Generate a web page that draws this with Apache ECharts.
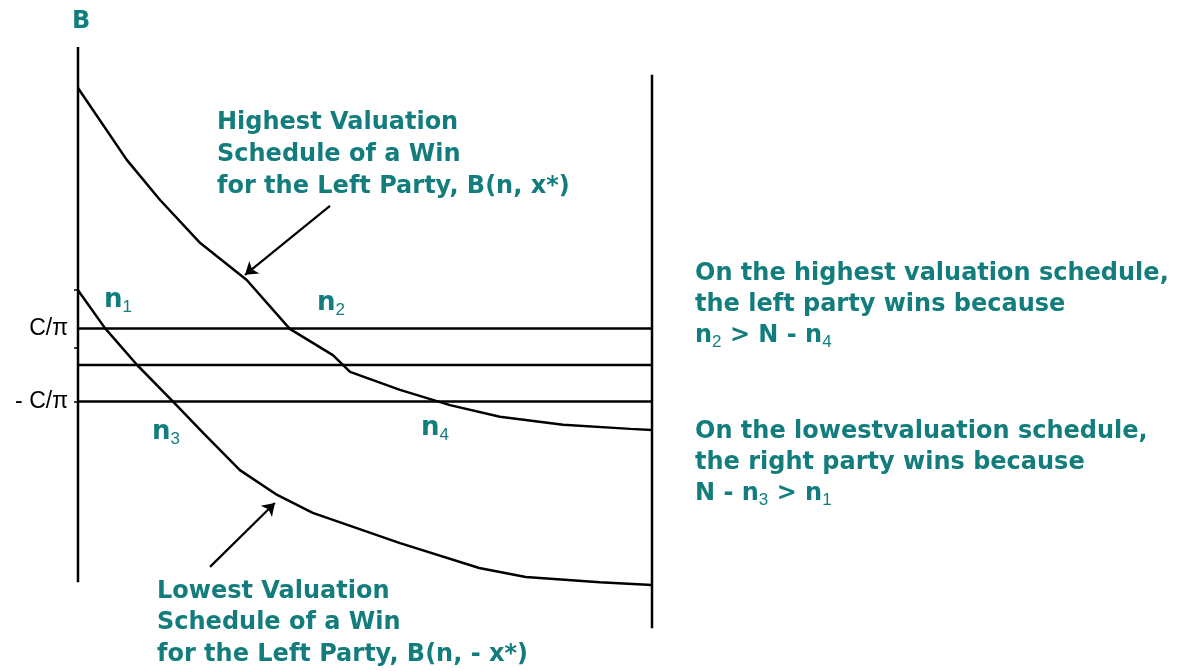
<!DOCTYPE html>
<html>
<head>
<meta charset="UTF-8">
<title>Valuation schedules</title>
<script src="https://cdn.jsdelivr.net/npm/echarts@6/dist/echarts.min.js"></script>
<style>
  html, body { margin: 0; padding: 0; background: #fff; }
  #main { width: 1199px; height: 671px; }
</style>
</head>
<body>
<div id="main"></div>
<script>
// x: n (number of voters, 0..N), y: B (valuation of a win), C/pi = 1
var nEdges = [0, 100];
var cutoffB = [1, 0, -1];            // C/pi, 0, -C/pi
var leftAxisB = [8.71, -5.95];
var rightAxisB = [7.95, -7.21];

// highest valuation schedule B(n, x*)
var highN = [0, 8.5, 14.3, 21.3, 29.4, 36.9, 44.4, 47.4, 56.1, 64.8, 73.5, 84.5, 96.2, 100];
var highB = [7.59, 5.62, 4.52, 3.34, 2.33, 0.99, 0.27, -0.19, -0.68, -1.10, -1.42, -1.64, -1.75, -1.78];

// lowest valuation schedule B(n, -x*)
var lowN = [0, 4.7, 10.3, 16.6, 21.8, 28.2, 34.7, 40.9, 56.1, 69.9, 78.0, 90.9, 100];
var lowB = [2.05, 1.01, 0, -1.01, -1.86, -2.88, -3.56, -4.05, -4.88, -5.56, -5.81, -5.95, -6.03];

// pointer arrows [from, to]
var arrows = [
  [[43.9, 4.36], [29.1, 2.47]],
  [[23.0, -5.53], [34.3, -3.78]]
];

var tickB = [2.05, 0.47, -1.01];
var labelB = [1, -1];
var labelText = { '1': 'C/\u03c0', '-1': '- C/\u03c0' };

var teal = '#137d7d';
var ink = '#000';
var font = 'bold 24px "DejaVu Sans"';
var bigFont = 'bold 26px "DejaVu Sans"';

function zip(xs, ys) {
  return xs.map(function (x, i) { return [x, ys[i]]; });
}

function seg(data) {
  return {
    type: 'line',
    data: data,
    symbol: 'none',
    silent: true,
    lineStyle: { color: ink, width: 2.5 },
    z: 3
  };
}

var series = [];
series.push(seg([[nEdges[0], leftAxisB[0]], [nEdges[0], leftAxisB[1]]]));
series.push(seg([[nEdges[1], rightAxisB[0]], [nEdges[1], rightAxisB[1]]]));
cutoffB.forEach(function (b) {
  series.push(seg([[nEdges[0], b], [nEdges[1], b]]));
});
series.push(seg(zip(highN, highB)));
series.push(seg(zip(lowN, lowB)));
series.push({
  type: 'lines',
  coordinateSystem: 'cartesian2d',
  silent: true,
  symbol: ['none', 'arrow'],
  symbolSize: 12,
  lineStyle: { color: ink, width: 2.2, opacity: 1 },
  data: arrows.map(function (a) { return { coords: a }; }),
  z: 4
});

var subRich = {
  n: { font: font, fill: teal, lineHeight: 31 },
  N: { font: bigFont, fill: teal, lineHeight: 31 },
  s: { font: '17px "Liberation Sans"', fill: teal, lineHeight: 17, verticalAlign: 'bottom' },
  t: { font: font, fill: teal, lineHeight: 31 }
};

function txt(left, top, text, lh) {
  return {
    type: 'text',
    left: left,
    top: top,
    silent: true,
    style: { text: text, font: font, fill: teal, lineHeight: lh || 31, rich: subRich }
  };
}

var chart = echarts.init(document.getElementById('main'));
chart.setOption({
  animation: false,
  backgroundColor: '#fff',
  grid: { left: 78, right: 547, top: 36.5, bottom: 14 },
  xAxis: {
    type: 'value', min: 0, max: 100,
    axisLine: { show: false }, axisTick: { show: false },
    axisLabel: { show: false }, splitLine: { show: false }
  },
  yAxis: {
    type: 'value', min: -8, max: 9,
    axisLine: { show: false },
    splitLine: { show: false },
    axisTick: {
      show: true, customValues: tickB, length: 4,
      lineStyle: { color: ink, width: 1.5 }
    },
    axisLabel: {
      show: true, customValues: labelB, margin: 10,
      color: ink, fontSize: 23, fontFamily: 'Liberation Sans',
      formatter: function (v) { return labelText[String(v)]; }
    }
  },
  series: series,
  graphic: [
    txt(72, 6, 'B'),
    txt(217, 107, 'Highest Valuation\nSchedule of a Win\nfor the Left Party, B(n, x*)', 32),
    txt(157, 576, 'Lowest Valuation\nSchedule of a Win\nfor the Left Party, B(n, - x*)', 31.5),
    txt(104, 285, '{N|n}{s|1}'),
    txt(317, 288, '{N|n}{s|2}'),
    txt(152, 417, '{N|n}{s|3}'),
    txt(421, 413, '{N|n}{s|4}'),
    txt(695, 258, 'On the highest valuation schedule,\nthe left party wins because\n{n|n}{s|2}{t| > N - }{n|n}{s|4}', 31),
    txt(695, 416, 'On the lowestvaluation schedule,\nthe right party wins because\n{t|N - }{n|n}{s|3}{t| > }{n|n}{s|1}', 31)
  ]
});
</script>
</body>
</html>
